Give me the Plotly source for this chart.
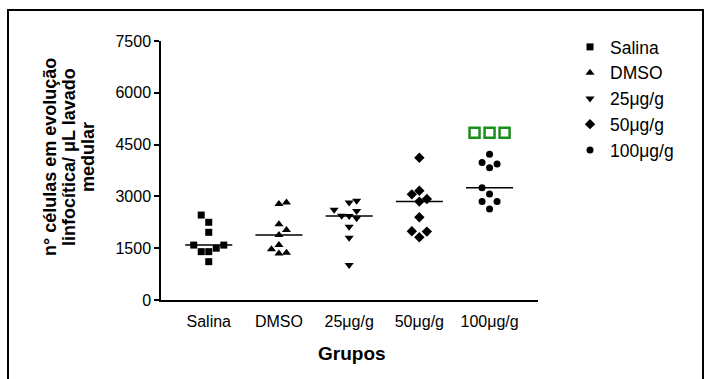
import plotly.graph_objects as go
import numpy as np

W, H = 712, 379

groups = ["Salina", "DMSO", "25μg/g", "50μg/g", "100μg/g"]
symbols = ["square", "triangle-up", "triangle-down", "diamond", "circle"]
sizes = [7, 8, 8, 8, 7]

salina = [2460, 2250, 1960, 1590, 1590, 1400, 1400, 1500, 1110]
salina_off = [-1, 0, 0, -2, 2, -1, 0, 1, 0]
dmso = [2780, 2820, 2190, 2030, 1880, 1590, 1470, 1350, 1370]
dmso_off = [0, 1, 0, 1, 0, 0, -1, 0, 1]
d25 = [2820, 2875, 2610, 2580, 2440, 2430, 2365, 2120, 1800, 1010]
d25_off = [0, 1, -2, 1, -1, 0, 1, 0, 0, 0]
d50 = [4120, 3165, 3060, 2925, 2850, 2395, 1990, 1980, 1815]
d50_off = [0, 0, -1, 1, 0, 0, -1, 1, 0]
d100 = [4220, 3985, 3940, 3830, 3250, 3070, 2850, 2850, 2635]
d100_off = [0, -1, 1, 0, -1, 0, -1, 1, 0]

sig_value = 4845
sig_off = [-2, 0, 2]

yticks = [0, 1500, 3000, 4500, 6000, 7500]

ytitle_lines = ["n° células em evolução", "linfocítica/ μL lavado", "medular"]

data = [salina, dmso, d25, d50, d100]
offs = [salina_off, dmso_off, d25_off, d50_off, d100_off]

JIT = 0.107
HALF = 0.335
FONT = "Liberation Sans, Arial, sans-serif"

# plot area in pixels
L, R, T, B = 161, 538, 41, 300

fig = go.Figure()
for i, (g, vals, off) in enumerate(zip(groups, data, offs)):
    fig.add_trace(go.Scatter(
        x=[i + o * JIT for o in off], y=vals, mode="markers", name=g,
        marker=dict(symbol=symbols[i], size=sizes[i], color="black", line=dict(width=0)),
        cliponaxis=False,
    ))
for i, vals in enumerate(data):
    m = float(np.median(vals))
    fig.add_trace(go.Scatter(
        x=[i - HALF, i + HALF], y=[m, m], mode="lines",
        line=dict(color="black", width=1.5), showlegend=False, hoverinfo="skip",
    ))
fig.add_trace(go.Scatter(
    x=[4 + o * JIT for o in sig_off], y=[sig_value] * 3, mode="markers",
    marker=dict(symbol="square-open", size=10, color="#1b8f1b", line=dict(width=2.5)),
    showlegend=False, cliponaxis=False,
))

def px(x):
    return (x - L) / (R - L)

def py(y):
    return (B - y) / (B - T)

# outer frame
fig.add_shape(type="line", xref="paper", yref="paper", x0=px(8), x1=px(8), y0=py(10), y1=py(400),
              line=dict(color="black", width=2))
fig.add_shape(type="line", xref="paper", yref="paper", x0=px(703), x1=px(703), y0=py(10), y1=py(400),
              line=dict(color="black", width=2))
fig.add_shape(type="line", xref="paper", yref="paper", x0=px(7), x1=px(704), y0=py(10), y1=py(10),
              line=dict(color="black", width=2))

for k, line in enumerate(ytitle_lines):
    fig.add_annotation(
        text="<b>" + line + "</b>",
        xref="paper", yref="paper", x=px(50 + 19 * k), y=py(157), textangle=-90,
        showarrow=False, font=dict(size=18, color="black", family=FONT),
        xanchor="center", yanchor="middle",
    )

fig.add_annotation(
    text="<b>Grupos</b>", xref="paper", yref="paper", x=px(352), y=py(353),
    showarrow=False, font=dict(size=19, color="black", family=FONT),
    xanchor="center", yanchor="middle",
)

fig.update_xaxes(
    range=[-0.68, 4.69], tickmode="array", tickvals=list(range(len(groups))), ticktext=groups,
    showline=True, linecolor="black", linewidth=1.5, ticks="outside", ticklen=6,
    tickcolor="rgba(0,0,0,0)", showgrid=False, zeroline=False,
    tickfont=dict(size=16, color="black", family=FONT),
)
fig.update_yaxes(
    range=[0, 7500], tickvals=yticks, showline=True, linecolor="black", linewidth=1.5,
    ticks="outside", ticklen=5, tickwidth=1.5, tickcolor="black", showgrid=False, zeroline=False,
    tickfont=dict(size=16, color="black", family=FONT),
)

fig.update_layout(
    width=W, height=H,
    margin=dict(l=L, r=W - R, t=T, b=H - B),
    plot_bgcolor="white", paper_bgcolor="white",
    font=dict(family=FONT, color="black"),
    showlegend=True,
    legend=dict(x=px(570), y=py(29), xanchor="left", yanchor="top",
                font=dict(size=17.5, color="black", family=FONT), bgcolor="rgba(0,0,0,0)",
                itemsizing="trace", tracegroupgap=0),
)

fig.write_html("out.html")
